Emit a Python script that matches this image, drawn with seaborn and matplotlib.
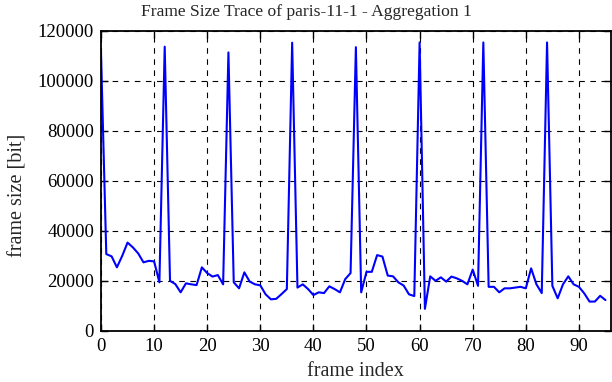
import numpy as np
import pandas as pd
import matplotlib
matplotlib.use('Agg')
import matplotlib.pyplot as plt
import seaborn as sns

# frame sizes [bit], frames 0..95
frame_index = list(range(96))
frame_size = [
    111700, 30700, 29800, 25400, 30000, 35300, 33400, 31000, 27400, 28000,
    27800, 19400, 113700, 20000, 18700, 15400, 19000, 18600, 18300, 25400,
    23100, 21700, 22300, 18600, 111400, 19400, 17000, 23400, 19700, 18600,
    18200, 14600, 12600, 12800, 14700, 16700, 115300, 17300, 18600, 16700,
    14300, 15400, 15100, 17800, 16700, 15400, 20700, 23100, 113500, 15400,
    23600, 23600, 30300, 29700, 22100, 21800, 19400, 18100, 14600, 13900,
    115400, 8800, 21800, 20000, 21400, 19700, 21700, 21000, 20000, 18600,
    24500, 18000, 115400, 17600, 17600, 15400, 17000, 17000, 17300, 17600,
    17000, 25000, 18600, 15100, 115400, 18000, 13000, 18600, 21800, 18600,
    17600, 15000, 11700, 11700, 14000, 12300,
]
x_ticks = list(range(0, 91, 10))
y_ticks = list(range(0, 120001, 20000))

df = pd.DataFrame({'frame index': frame_index, 'frame size': frame_size})

sns.set_style('ticks')
plt.rcParams['font.family'] = ['Liberation Serif', 'DejaVu Serif']
plt.rcParams['font.size'] = 12

fig = plt.figure(figsize=(6.12, 3.82), dpi=100)
ax = fig.add_axes([0.165, 0.134, 0.833, 0.785])
sns.lineplot(data=df, x='frame index', y='frame size', color='#0000ff', linewidth=1.5, ax=ax)

ax.set_xlim(0, 96)
ax.set_ylim(0, 120000)
ax.set_xticks(x_ticks)
ax.set_yticks(y_ticks)
ax.grid(True, linestyle=(0, (5, 5)), color='black', linewidth=0.8)
ax.tick_params(direction='in', top=True, right=True, length=5, width=1, colors='black',
               labelsize=13.5, pad=5)
for s in ax.spines.values():
    s.set_visible(True)
    s.set_linewidth(1.3)
    s.set_color('black')

# title is centred on the whole figure in the original
fig.suptitle('Frame Size Trace of paris-11-1 - Aggregation 1', x=0.5, y=0.99, fontsize=12.6, va='top')
ax.set_xlabel('frame index', fontsize=14.5, labelpad=0)
ax.xaxis.set_label_coords(0.5, -0.105)
ax.xaxis.label.set_va('top')
ax.set_ylabel('frame size [bit]', fontsize=14.5, labelpad=0)
ax.yaxis.set_label_coords(-0.145, 0.45)

fig.savefig('out.png', dpi=100)
